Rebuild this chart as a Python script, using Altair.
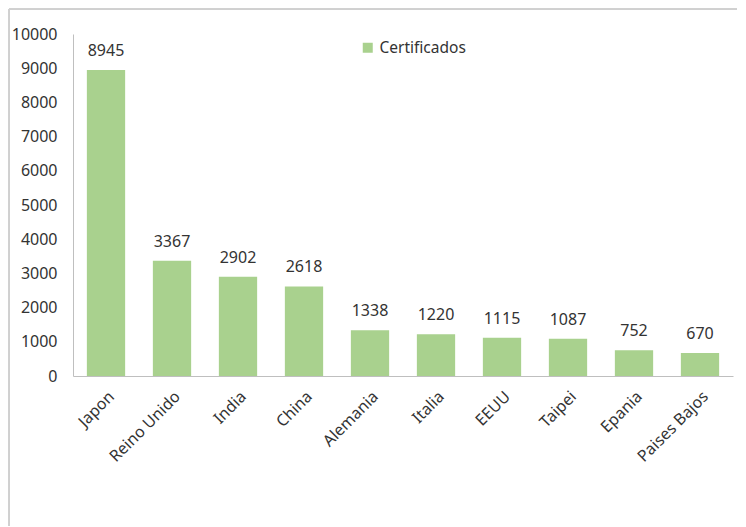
import altair as alt
import pandas as pd

countries = ["Japon", "Reino Unido", "India", "China", "Alemania", "Italia",
             "EEUU", "Taipei", "Epania", "Paises Bajos"]
values = [8945, 3367, 2902, 2618, 1338, 1220, 1115, 1087, 752, 670]
series_name = "Certificados"
y_ticks = list(range(0, 10001, 1000))

df = pd.DataFrame({"pais": countries, "valor": values, "serie": series_name})

FONT = "Noto Sans"
TXT = "#333333"
GREEN = "#a9d18e"

x_enc = alt.X("pais:N", sort=countries, title=None,
              scale=alt.Scale(paddingInner=0.42, paddingOuter=0.21),
              axis=alt.Axis(labelAngle=-45, ticks=False, domainColor="#bfbfbf",
                            labelFontSize=16, labelColor=TXT, labelPadding=12,
                            labelFont=FONT))
y_enc = alt.Y("valor:Q", title=None,
              scale=alt.Scale(domain=[0, 10000], nice=False),
              axis=alt.Axis(values=y_ticks, grid=False, ticks=False, format="d",
                            labelOverlap=False,
                            domainColor="#bfbfbf", labelFontSize=16,
                            labelColor=TXT, labelPadding=16, labelFont=FONT))

bars = alt.Chart(df).mark_bar().encode(
    x=x_enc, y=y_enc,
    color=alt.Color("serie:N", scale=alt.Scale(range=[GREEN]), title=None,
                    legend=alt.Legend(orient="none", legendX=287, legendY=6,
                                      symbolType="square", symbolSize=100,
                                      symbolStrokeWidth=0, labelFontSize=15.5,
                                      labelColor=TXT, labelFont=FONT,
                                      labelOffset=4,
                                      padding=0, symbolOffset=0)),
)

labels = alt.Chart(df).mark_text(dy=-11, fontSize=16, color=TXT, font=FONT,
                                 baseline="bottom").encode(
    x=x_enc,
    y=y_enc,
    text="valor:Q",
)

frame_left = alt.Chart(df).mark_rule(color="#d0d0d0", strokeWidth=1).encode(
    x=alt.value(-64), y=alt.value(-25), y2=alt.value(700))
frame_top = alt.Chart(df).mark_rule(color="#d0d0d0", strokeWidth=1).encode(
    x=alt.value(-64), x2=alt.value(900), y=alt.value(-25))

chart = alt.layer(frame_left, frame_top, bars, labels).properties(
    width=660, height=342,
    autosize=alt.AutoSizeParams(type="none"),
    padding={"left": 65, "top": 26, "right": 4, "bottom": 150},
).configure_view(stroke=None)

chart.save("out.html", embed_options={"renderer": "svg", "actions": False})
